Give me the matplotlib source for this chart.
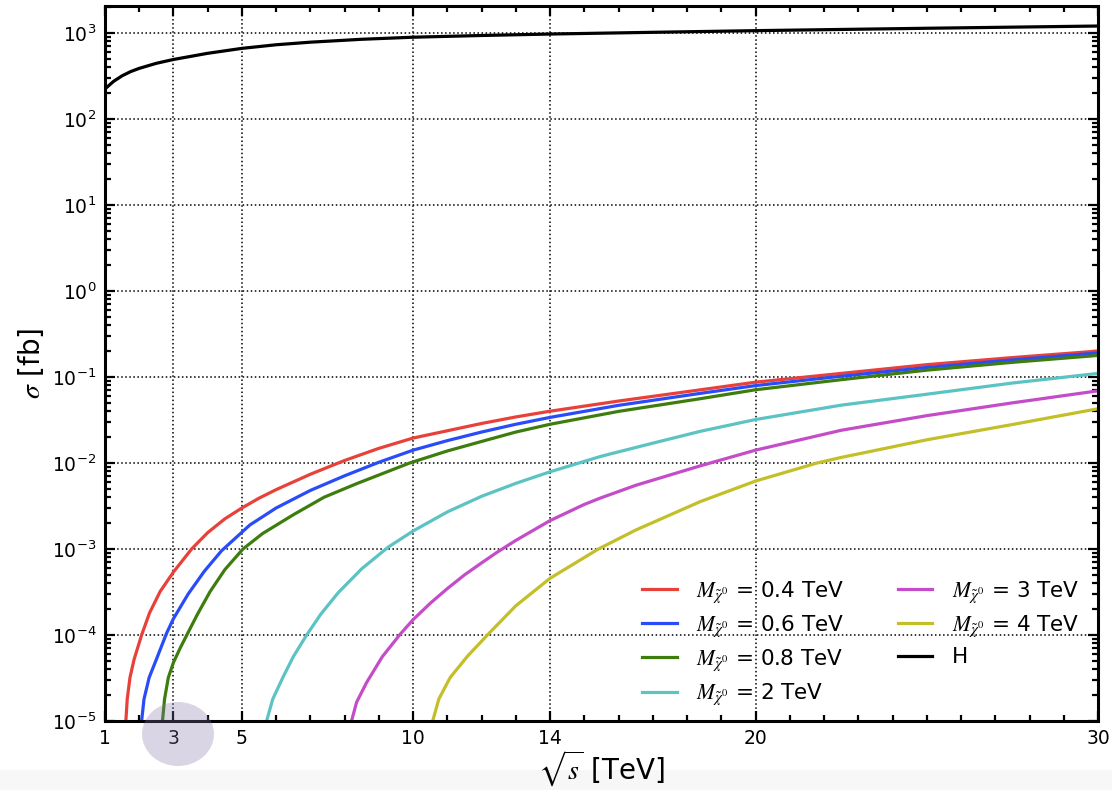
import matplotlib
matplotlib.use('Agg')
import matplotlib.pyplot as plt
from matplotlib.ticker import FixedLocator, MultipleLocator, LogLocator, NullFormatter
from matplotlib.patches import Ellipse, Rectangle

plt.rcParams['mathtext.fontset'] = 'stix'

# sqrt(s) in TeV, sigma in fb
x_h = [1, 1.25, 1.5, 1.75, 2, 2.5, 3, 4, 5, 6, 7, 8.5, 10, 12, 14, 17, 20, 25, 30]
y_h = [223, 273, 317, 355, 387, 443, 491, 579, 661, 728, 780, 843, 891, 933, 970, 1016, 1062, 1132, 1202]

x_04 = [1.61, 1.65, 1.73, 1.85, 2.07, 2.3, 2.61, 3, 3.53, 4, 4.5, 5, 5.5, 6, 7, 8, 9,
        10, 11, 12, 13, 14, 16, 18.4, 20, 22.5, 25, 27.5, 30]
y_04 = [1e-5, 1.8e-5, 3.2e-5, 5.2e-5, 1e-4, 1.8e-4, 3.2e-4, 5.4e-4, 1e-3, 1.55e-3, 2.24e-3, 3.0e-3,
        3.9e-3, 4.9e-3, 7.4e-3, 1.07e-2, 1.48e-2, 0.0195, 0.0237, 0.0288, 0.0343, 0.040, 0.0525,
        0.071, 0.087, 0.11, 0.139, 0.168, 0.20]

x_06 = [2.07, 2.14, 2.29, 2.5, 2.8, 3, 3.43, 3.9, 4.4, 5.23, 6, 7, 8, 9, 10, 11, 12, 13, 14,
        16, 18.4, 20, 22.5, 25, 27.5, 30]
y_06 = [1e-5, 1.8e-5, 3.2e-5, 5.2e-5, 1.05e-4, 1.55e-4, 3.0e-4, 5.5e-4, 9.5e-4, 1.9e-3, 3.0e-3, 4.8e-3,
        7.1e-3, 1.02e-2, 0.0141, 0.0182, 0.0229, 0.0282, 0.0339, 0.0468, 0.0646, 0.0794, 0.102,
        0.129, 0.158, 0.19]

x_08 = [2.68, 2.74, 2.85, 3, 3.2, 3.39, 3.7, 4.07, 4.5, 5.03, 5.6, 6.5, 7.4, 8.35, 9.9, 11, 12, 13,
        14, 16, 18.4, 20, 22.5, 25, 27.5, 30]
y_08 = [1e-5, 1.8e-5, 3.2e-5, 4.8e-5, 7.1e-5, 1e-4, 1.74e-4, 3.2e-4, 5.75e-4, 1e-3, 1.51e-3, 2.5e-3,
        4.0e-3, 5.75e-3, 1e-2, 0.0138, 0.0178, 0.0229, 0.0282, 0.0398, 0.056, 0.071, 0.093, 0.12,
        0.148, 0.178]

x_2 = [5.72, 5.9, 6.21, 6.5, 6.89, 7.3, 7.81, 8.5, 9.27, 10, 11, 12, 13, 14, 15.5, 17, 18.4, 20,
       22.5, 25, 27.5, 30]
y_2 = [1e-5, 1.8e-5, 3.3e-5, 5.6e-5, 1e-4, 1.74e-4, 3.1e-4, 5.9e-4, 1.05e-3, 1.62e-3, 2.7e-3, 4.1e-3,
       5.8e-3, 7.9e-3, 0.012, 0.017, 0.0234, 0.032, 0.047, 0.063, 0.085, 0.11]

x_3 = [8.2, 8.35, 8.64, 9.1, 9.62, 10, 10.5, 11, 11.5, 12, 12.44, 13, 14, 15, 15.46, 16.5, 18.4,
       20, 22.5, 25, 27.5, 30]
y_3 = [1e-5, 1.66e-5, 2.8e-5, 5.6e-5, 1.02e-4, 1.51e-4, 2.34e-4, 3.47e-4, 5.0e-4, 6.9e-4, 9.1e-4,
       1.26e-3, 2.14e-3, 3.3e-3, 3.9e-3, 5.5e-3, 9.3e-3, 0.0141, 0.024, 0.0355, 0.050, 0.069]

x_4 = [10.57, 10.75, 11.08, 11.6, 12.24, 13, 14, 15.41, 16.5, 18.38, 20, 21.8, 22.5, 25, 27.5, 30]
y_4 = [1e-5, 1.8e-5, 3.2e-5, 5.75e-5, 1.07e-4, 2.19e-4, 4.57e-4, 1e-3, 1.66e-3, 3.55e-3, 6.17e-3,
       1e-2, 0.0116, 0.0186, 0.028, 0.0427]

xticks = [1, 3, 5, 10, 14, 20, 30]

fig = plt.figure(figsize=(11.12, 7.9), dpi=100)
ax = fig.add_axes([0.0944, 0.0873, 0.893, 0.905])

lw = 2.3
ax.plot(x_04, y_04, color='#e8413a', lw=lw, label=r'$M_{\tilde{\chi}^0}$ = 0.4 TeV')
ax.plot(x_06, y_06, color='#2a4cf8', lw=lw, label=r'$M_{\tilde{\chi}^0}$ = 0.6 TeV')
ax.plot(x_08, y_08, color='#3d7d0e', lw=lw, label=r'$M_{\tilde{\chi}^0}$ = 0.8 TeV')
ax.plot(x_2, y_2, color='#5bc3c3', lw=lw, label=r'$M_{\tilde{\chi}^0}$ = 2 TeV')
ax.plot(x_3, y_3, color='#c44cc8', lw=lw, label=r'$M_{\tilde{\chi}^0}$ = 3 TeV')
ax.plot(x_4, y_4, color='#c3bf28', lw=lw, label=r'$M_{\tilde{\chi}^0}$ = 4 TeV')
ax.plot(x_h, y_h, color='black', lw=lw, label='H')

ax.set_yscale('log')
ax.set_xlim(1, 30)
ax.set_ylim(1e-5, 2.05e3)

ax.xaxis.set_major_locator(FixedLocator(xticks))
ax.set_xticklabels([str(t) for t in xticks])
ax.xaxis.set_minor_locator(MultipleLocator(1))
ax.yaxis.set_major_locator(LogLocator(base=10, numticks=20))
ax.yaxis.set_minor_locator(LogLocator(base=10, subs=range(2, 10), numticks=100))
ax.yaxis.set_minor_formatter(NullFormatter())

ax.tick_params(which='both', direction='in', top=True, right=True, width=1.6, labelsize=13.5)
ax.tick_params(which='major', length=7, pad=6)
ax.tick_params(which='minor', length=4)
for s in ax.spines.values():
    s.set_linewidth(2.2)

ax.grid(True, which='major', color='black', linestyle=':', linewidth=1.1)

ax.set_xlabel(r'$\sqrt{s}$ [TeV]', fontsize=20, labelpad=0)
ax.set_ylabel(r'$\sigma$ [fb]', fontsize=20, labelpad=4)

ax.legend(ncol=2, frameon=False, loc='lower right', bbox_to_anchor=(0.995, 0), fontsize=15.5,
          handlelength=1.6, handletextpad=0.9, columnspacing=2.5,
          labelspacing=0.4, borderaxespad=0.25)

# highlight circle around the "3" tick label and grey strip at the bottom
fig.patches.append(Rectangle((0, 0), 1, 20 / 790, transform=fig.transFigure,
                             facecolor='#f7f7f7', edgecolor='none', zorder=-1))
fig.patches.append(Ellipse((178 / 1112, 1 - 734 / 790), 72 / 1112, 64 / 790,
                           transform=fig.transFigure, facecolor=(0.52, 0.46, 0.67),
                           alpha=0.3, edgecolor='none', zorder=10))

fig.savefig('out.png', dpi=100)
